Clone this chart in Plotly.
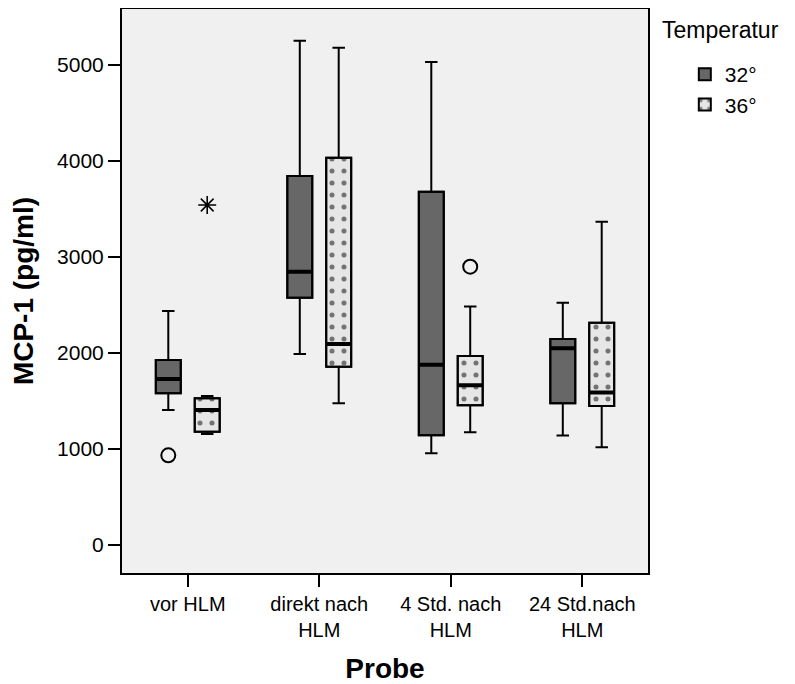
import plotly.graph_objects as go

categories = ["vor HLM", "direkt nach<br>HLM", "4 Std. nach<br>HLM", "24 Std.nach<br>HLM"]
groups = ["32°", "36°"]

# precomputed box statistics per group (one value per category)
q1 = {"32°": [1580, 2576, 1142, 1476], "36°": [1180, 1857, 1455, 1448]}
median = {"32°": [1729, 2847, 1878, 2049], "36°": [1406, 2094, 1663, 1587]}
q3 = {"32°": [1927, 3844, 3680, 2146], "36°": [1528, 4034, 1969, 2316]}
lowerfence = {"32°": [1406, 1990, 955, 1139], "36°": [1156, 1476, 1174, 1018]}
upperfence = {"32°": [2437, 5253, 5031, 2524], "36°": [1552, 5180, 2483, 3368]}

# outliers: (category index, group, value, kind)
out_cat = [0, 0, 2]
out_group = ["32°", "36°", "36°"]
out_value = [934, 3542, 2899]
out_kind = ["circle", "extreme", "circle"]

fill = {"32°": "#676767", "36°": "#e6e6e6"}
offset = {"32°": -0.148, "36°": 0.148}
BOXW = 0.19

fig = go.Figure()

for g in groups:
    xs = [i + offset[g] for i in range(len(categories))]
    marker = dict(color=fill[g], line=dict(color="black", width=2))
    if g == "36°":
        marker["pattern"] = dict(shape=".", size=12, solidity=0.14,
                                 fgcolor="black", bgcolor=fill[g], fillmode="overlay")
    fig.add_trace(go.Bar(
        x=xs, y=[b - a for a, b in zip(q1[g], q3[g])], base=q1[g], width=BOXW,
        name=g, showlegend=True, hoverinfo="skip", marker=marker,
    ))
    fig.add_trace(go.Box(
        x=xs, q1=q1[g], median=median[g], q3=q3[g],
        lowerfence=lowerfence[g], upperfence=upperfence[g],
        width=BOXW, whiskerwidth=0.5, boxpoints=False,
        fillcolor="rgba(0,0,0,0)", line=dict(color="black", width=2),
        showlegend=False, name=g,
    ))
    # thicker median line
    fig.add_trace(go.Box(
        x=xs, q1=median[g], median=median[g], q3=median[g],
        lowerfence=median[g], upperfence=median[g],
        width=BOXW, whiskerwidth=0.01, boxpoints=False,
        fillcolor="rgba(0,0,0,0)", line=dict(color="black", width=4),
        showlegend=False, hoverinfo="skip", name=g,
    ))

sym = {"circle": "circle-open", "extreme": "asterisk-open"}
msize = {"circle": 14, "extreme": 15}
for c, g, v, k in zip(out_cat, out_group, out_value, out_kind):
    fig.add_trace(go.Scatter(
        x=[c + offset[g]], y=[v], mode="markers", showlegend=False,
        marker=dict(symbol=sym[k], size=msize[k], color="black",
                    line=dict(color="black", width=2 if k == "circle" else 1.6)),
    ))

fig.update_layout(
    width=787, height=676,
    margin=dict(l=114, r=147, t=1, b=111, autoexpand=False),
    paper_bgcolor="white", plot_bgcolor="#f0f0f0",
    font=dict(family="Liberation Sans, Arial, sans-serif", size=21, color="black"),
    barmode="overlay", boxmode="overlay",
    showlegend=True,
    legend=dict(x=1.07, y=0.92, xanchor="left", yanchor="top",
                font=dict(size=21), bgcolor="rgba(0,0,0,0)",
                tracegroupgap=0, itemwidth=30),
    annotations=[dict(text="Temperatur", x=1.023, y=0.99, xref="paper", yref="paper",
                      xanchor="left", yanchor="top", showarrow=False,
                      font=dict(size=23))],
)

fig.update_xaxes(
    range=[-0.5, 3.5], tickvals=list(range(len(categories))), ticktext=categories,
    ticks="outside", ticklen=12, tickwidth=2, tickcolor="black",
    showline=True, linecolor="black", linewidth=2, mirror=True, automargin=False,
    showgrid=False, zeroline=False, tickfont=dict(size=20),
    title=dict(text="<b>Probe</b>", font=dict(size=28), standoff=18),
)
fig.update_yaxes(
    range=[-292, 5583], tickvals=[0, 1000, 2000, 3000, 4000, 5000],
    ticks="outside", ticklen=12, tickwidth=2, tickcolor="black",
    showline=True, linecolor="black", linewidth=2, mirror=True, automargin=False,
    showgrid=False, zeroline=False, tickfont=dict(size=21),
    title=dict(text="<b>MCP-1 (pg/ml)</b>", font=dict(size=28), standoff=16),
)

fig.write_html("out.html")
